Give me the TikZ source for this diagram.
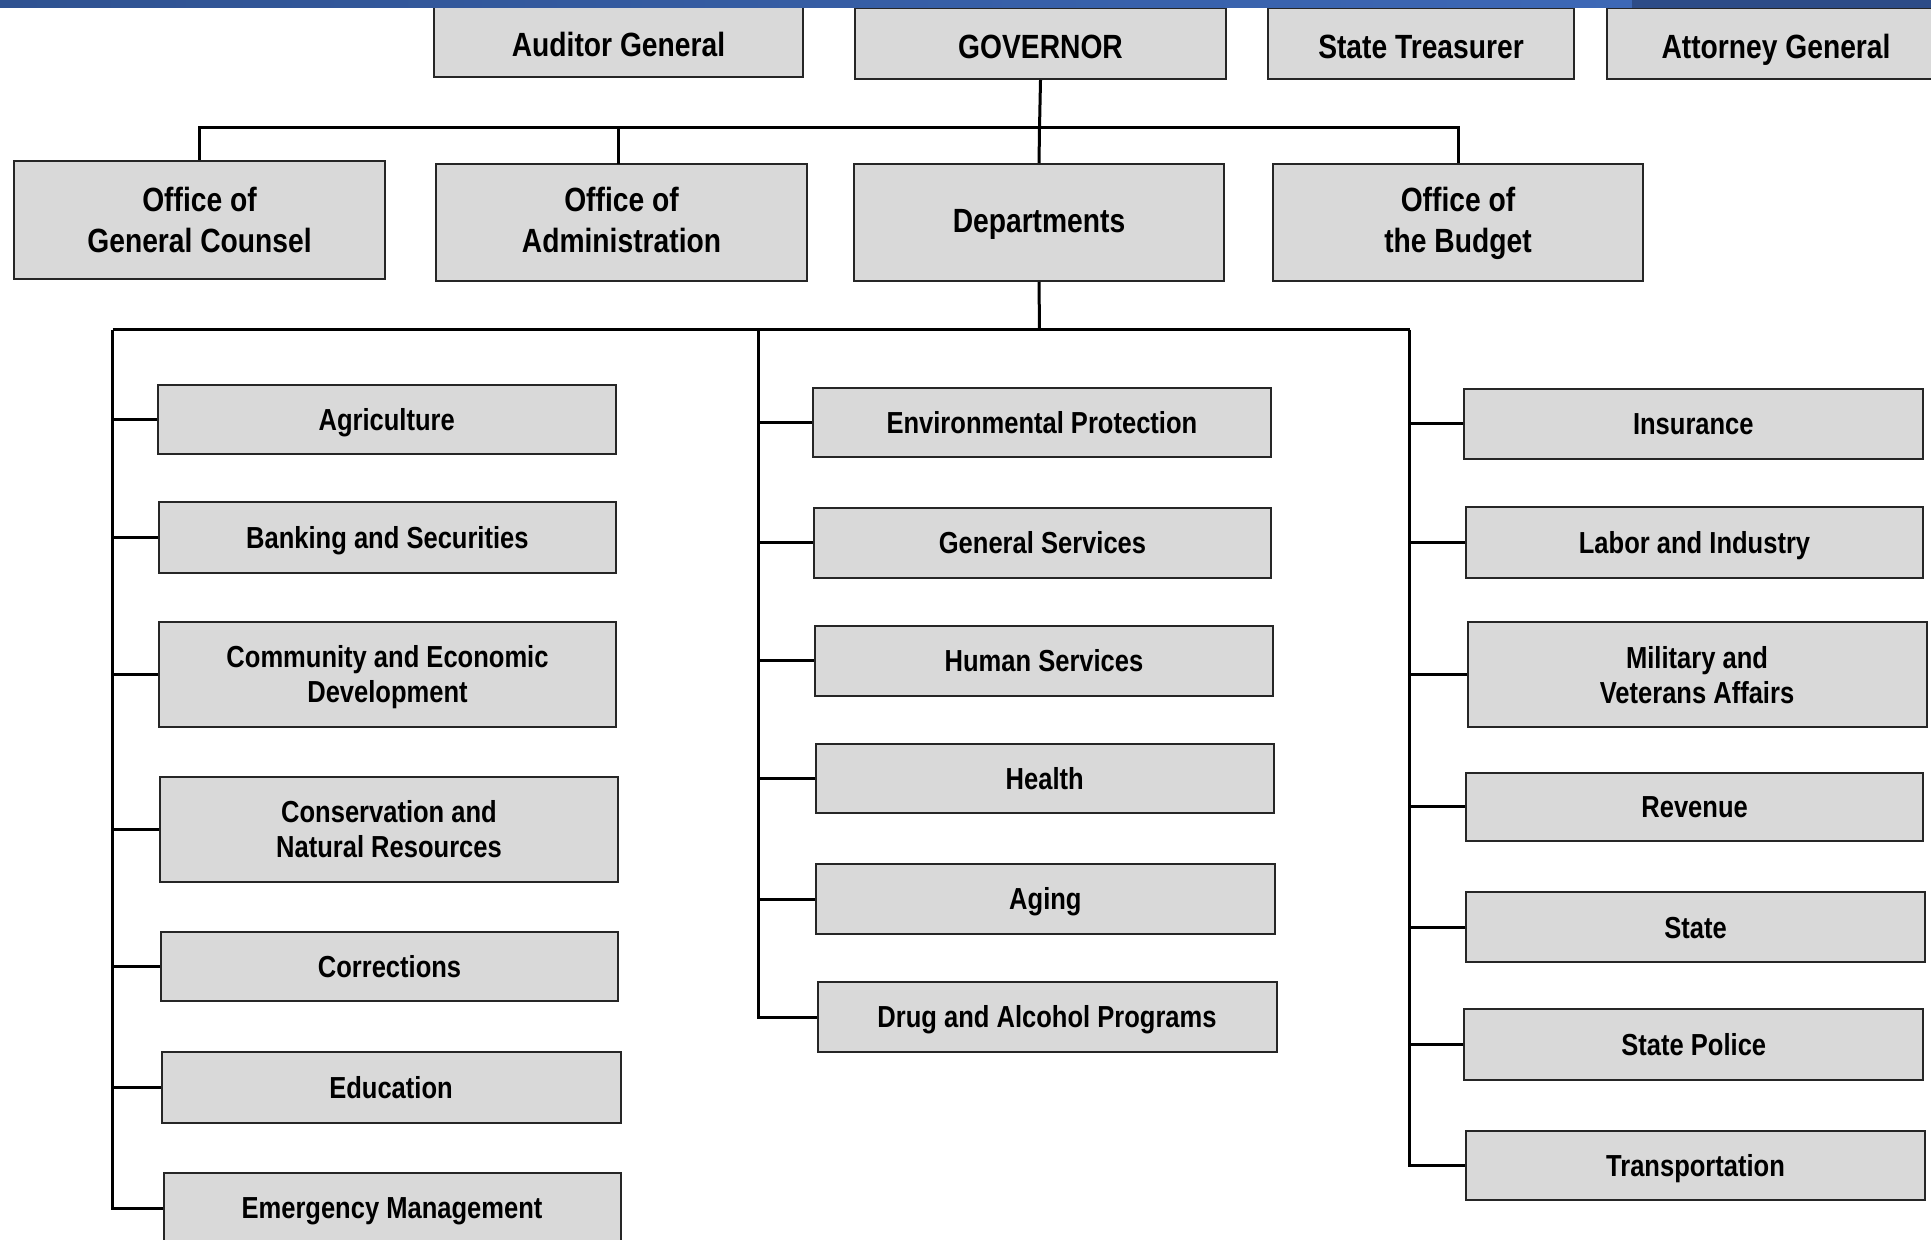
\documentclass[tikz,border=0pt]{standalone}
\usepackage{fontspec}
\setmainfont{Liberation Sans}[FakeStretch=0.84]
\begin{document}
\begin{tikzpicture}[x=0.5pt,y=-0.5pt,
  boxbase/.style={rectangle, draw=boxline, fill=boxfill, line width=1pt, inner sep=0pt, align=center, text depth=0pt},
  topbox/.style={boxbase, font=\fontsize{16.8pt}{20.5pt}\selectfont\bfseries},
  deptbox/.style={boxbase, font=\fontsize{15.2pt}{17.5pt}\selectfont\bfseries},
  topone/.style={topbox, text height=15.5pt},
  deptone/.style={deptbox, text height=10.9pt},
  conn/.style={line width=1.5pt, draw=black}]
\definecolor{boxfill}{HTML}{D9D9D9}
\definecolor{boxline}{HTML}{262626}
\definecolor{barleft}{HTML}{2F5291}
\definecolor{barright}{HTML}{3D68B6}
\definecolor{bardark}{HTML}{2D4C87}
\useasboundingbox (0,0) rectangle (1931,1240);
\clip (0,0) rectangle (1931,1240);
% top row
\node[topone, minimum width=369*0.5pt, minimum height=72*0.5pt] (aud) at (618.5,41) {Auditor General};
\node[topone, minimum width=371*0.5pt, minimum height=71*0.5pt] (gov) at (1040.5,43.5) {GOVERNOR};
\node[topone, minimum width=306*0.5pt, minimum height=71*0.5pt] (tre) at (1421,43.5) {State Treasurer};
\node[topone, minimum width=338*0.5pt, minimum height=71*0.5pt] (att) at (1776,43.5) {Attorney General};
% second row
\node[topbox, minimum width=371*0.5pt, minimum height=118*0.5pt] (ogc) at (199.5,220) {Office of\\General Counsel};
\node[topbox, text depth=2.5pt, minimum width=371*0.5pt, minimum height=117*0.5pt] (oa) at (621.5,222.5) {Office of\\Administration};
\node[topbox, text height=10pt, minimum width=370*0.5pt, minimum height=117*0.5pt] (dep) at (1039,222.5) {Departments};
\node[topbox, text depth=2.5pt, minimum width=370*0.5pt, minimum height=117*0.5pt] (bud) at (1458,222.5) {Office of\\the Budget};
% left column
\node[deptone, minimum width=458*0.5pt, minimum height=69*0.5pt] (agr) at (386.7,420) {Agriculture};
\node[deptone, minimum width=457*0.5pt, minimum height=70*0.5pt] (ban) at (387.4,537.5) {Banking and Securities};
\node[deptbox, minimum width=457*0.5pt, minimum height=104.6*0.5pt] (ced) at (387.5,674.3) {Community and Economic\\Development};
\node[deptbox, minimum width=458*0.5pt, minimum height=104.7*0.5pt] (cnr) at (389,829.4) {Conservation and\\Natural Resources};
\node[deptone, minimum width=457*0.5pt, minimum height=69*0.5pt] (cor) at (389.5,966.5) {Corrections};
\node[deptone, minimum width=459*0.5pt, minimum height=70.4*0.5pt] (edu) at (391,1087.5) {Education};
\node[deptone, minimum width=457*0.5pt, minimum height=70*0.5pt] (emg) at (392,1208) {Emergency Management};
% middle column
\node[deptone, minimum width=458*0.5pt, minimum height=69*0.5pt] (env) at (1041.9,422.5) {Environmental Protection};
\node[deptone, minimum width=457*0.5pt, minimum height=70*0.5pt] (gsv) at (1042.5,542.5) {General Services};
\node[deptone, minimum width=458*0.5pt, minimum height=70*0.5pt] (hsv) at (1044,660.7) {Human Services};
\node[deptone, minimum width=457.6*0.5pt, minimum height=69*0.5pt] (hea) at (1044.7,778.8) {Health};
\node[deptone, minimum width=459*0.5pt, minimum height=70*0.5pt] (agi) at (1045.4,899) {Aging};
\node[deptone, minimum width=459*0.5pt, minimum height=70.6*0.5pt] (dru) at (1047,1017) {Drug and Alcohol Programs};
% right column
\node[deptone, minimum width=459*0.5pt, minimum height=69.4*0.5pt] (ins) at (1693.3,424) {Insurance};
\node[deptone, minimum width=457*0.5pt, minimum height=71*0.5pt] (lab) at (1694.5,542.8) {Labor and Industry};
\node[deptbox, minimum width=459*0.5pt, minimum height=104.4*0.5pt] (mil) at (1697,674.5) {Military and\\Veterans Affairs};
\node[deptone, minimum width=457*0.5pt, minimum height=68.3*0.5pt] (rev) at (1694.6,806.8) {Revenue};
\node[deptone, minimum width=459*0.5pt, minimum height=70*0.5pt] (sta) at (1695.5,927.3) {State};
\node[deptone, minimum width=459*0.5pt, minimum height=70.7*0.5pt] (spo) at (1693.8,1044.7) {State Police};
\node[deptone, minimum width=459*0.5pt, minimum height=69.3*0.5pt] (trn) at (1695.5,1165.3) {Transportation};
% buses
\coordinate (busA) at (1039.5,128);
\coordinate (busB) at (1039.5,330);
\coordinate (lbus) at (112.5,330);
\coordinate (mbus) at (758,330);
\coordinate (rbus) at (1409.5,330);
% governor connectors
\draw[conn] (gov.south) -- (busA) -- (dep.north);
\draw[conn] (ogc.north) |- (busA) -| (bud.north);
\draw[conn] (618,128) -- (618,164);
% departments bus
\draw[conn] (dep.south) -- (busB);
\draw[conn] (lbus) -- (rbus);
% left column
\draw[conn] (lbus) |- (emg.west);
\foreach \n in {agr,ban,ced,cnr,cor,edu} \draw[conn] (\n.west) -- (\n.west -| lbus);
% middle column
\draw[conn] (mbus) |- (dru.west);
\foreach \n in {env,gsv,hsv,hea,agi} \draw[conn] (\n.west) -- (\n.west -| mbus);
% right column
\draw[conn] (rbus) |- (trn.west);
\foreach \n in {ins,lab,mil,rev,sta,spo} \draw[conn] (\n.west) -- (\n.west -| rbus);
% top bar
\shade[left color=barleft, right color=barright] (0,0) rectangle (1632,8);
\fill[bardark] (1632,0) rectangle (1931,8);
\end{tikzpicture}
\end{document}
